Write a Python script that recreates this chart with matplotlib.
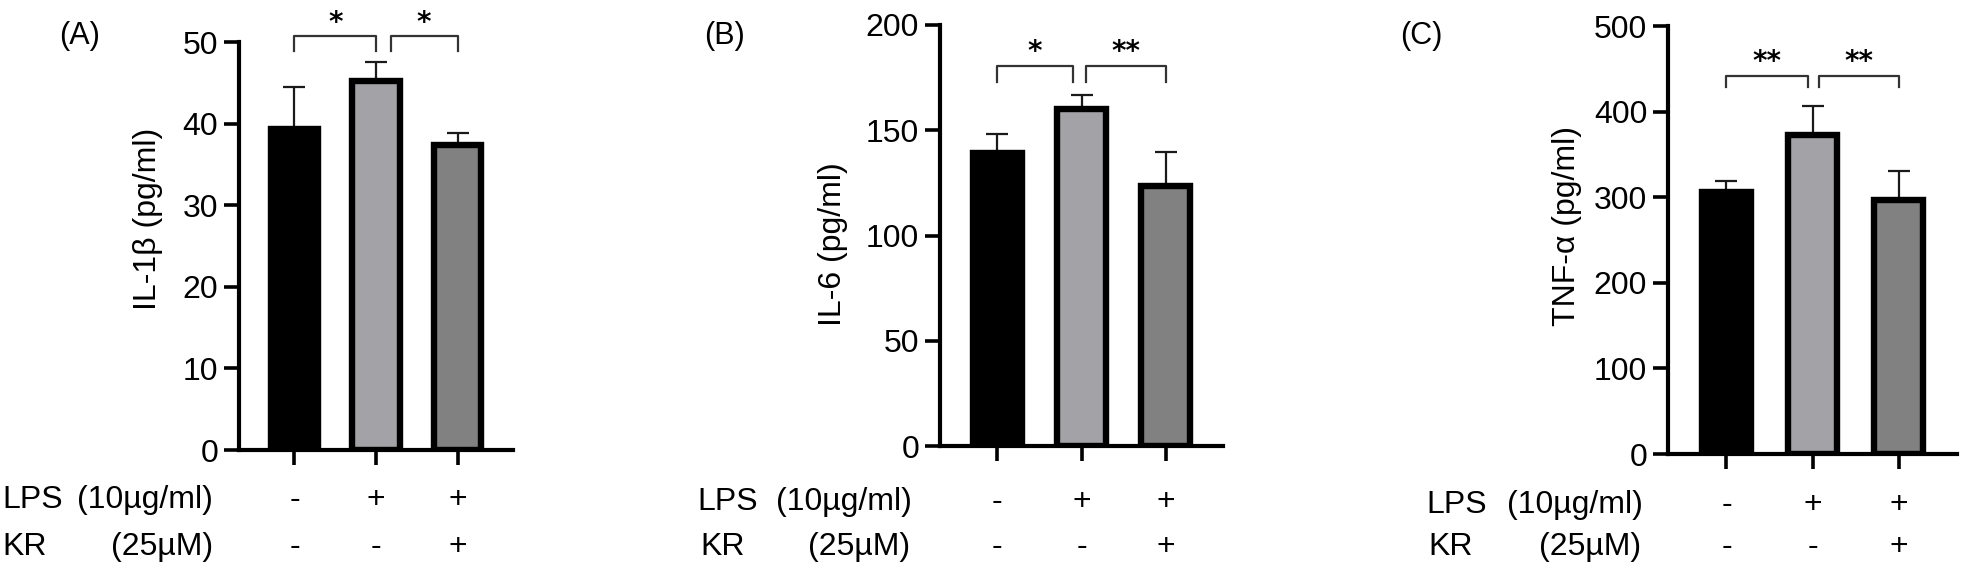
import matplotlib

matplotlib.use("Agg")
import matplotlib.pyplot as plt
import matplotlib.transforms as mtransforms
import numpy as np

plt.rcParams["font.family"] = ["Liberation Sans", "DejaVu Sans"]

# --- data ---
lps_signs = ["-", "+", "+"]
kr_signs = ["-", "-", "+"]

il1b_mean = [39.3, 45.2, 37.4]
il1b_err = [5.2, 2.3, 1.5]
il1b_sig = ["*", "*"]

il6_mean = [139.3, 160.1, 123.7]
il6_err = [8.7, 6.6, 15.8]
il6_sig = ["*", "**"]

tnf_mean = [306.0, 372.1, 296.2]
tnf_err = [12.4, 34.1, 34.1]
tnf_sig = ["**", "**"]

bar_colors = ["#000000", "#a3a3a7", "#818181"]

W, H = 1961, 572


def px_rect(left, right, top, bottom):
    return [left / W, 1 - bottom / H, (right - left) / W, (bottom - top) / H]


def draw_panel(fig, rect, means, errs, sig, ylabel, ymax, ystep,
               spans, br_top, br_low, letter, letter_xy, label_xy, rows):
    ax = fig.add_axes(rect)
    x = np.arange(len(means))
    ax.errorbar(x, means, yerr=[np.zeros(len(errs)), errs], fmt="none",
                ecolor="#1a1a1a", elinewidth=1.6, capsize=8, capthick=1.6, zorder=1)
    ax.bar(x, means, width=0.58, color=bar_colors, edgecolor="black",
           linewidth=4.6, zorder=2)

    ax.set_xlim(-0.68, 2.68)
    ax.set_ylim(0, ymax)
    ax.set_yticks(np.arange(0, ymax + 1, ystep))
    ax.set_xticks(x)
    ax.set_xticklabels([])
    for s in ["top", "right"]:
        ax.spines[s].set_visible(False)
    for s in ["left", "bottom"]:
        ax.spines[s].set_linewidth(3)
    ax.tick_params(axis="both", direction="out", length=11, width=2.6,
                   labelsize=23, pad=4)
    ax.set_ylabel(ylabel, fontsize=23)
    ax.yaxis.set_label_coords(*label_xy)

    # significance brackets
    for (x0, x1), s in zip(spans, sig):
        ax.plot([x0, x0, x1, x1], [br_low, br_top, br_top, br_low],
                color="#333333", lw=1.6, clip_on=False)
        ax.annotate(s, xy=((x0 + x1) / 2, br_top), xytext=(0, 4),
                    textcoords="offset points", ha="center", va="baseline",
                    fontsize=20, fontweight="bold", family="DejaVu Sans",
                    annotation_clip=False)

    fig.text(letter_xy[0] / W, 1 - letter_xy[1] / H, letter, fontsize=22,
             ha="center", va="center")

    # treatment table under the axis
    trans = mtransforms.blended_transform_factory(ax.transData, fig.transFigure)
    (lx0, lx1, ly), (kx0, kx1, ky) = rows
    fig.text(lx0 / W, 1 - ly / H, "LPS", fontsize=23, ha="left", va="center")
    fig.text(lx1 / W, 1 - ly / H, "(10\u00b5g/ml)", fontsize=23, ha="right", va="center")
    fig.text(kx0 / W, 1 - ky / H, "KR", fontsize=23, ha="left", va="center")
    fig.text(kx1 / W, 1 - ky / H, "(25\u00b5M)", fontsize=23, ha="right", va="center")
    for xi, a, b in zip(x, lps_signs, kr_signs):
        ax.text(xi, 1 - ly / H, a, transform=trans, fontsize=23, ha="center", va="center")
        ax.text(xi, 1 - ky / H, b, transform=trans, fontsize=23, ha="center", va="center")
    return ax


fig = plt.figure(figsize=(W / 100, H / 100), dpi=100)

draw_panel(fig, px_rect(239, 513, 42, 450), il1b_mean, il1b_err, il1b_sig,
           "IL-1\u03b2 (pg/ml)", 50, 10,
           [(0, 1.0), (1.18, 2.0)], 50.7, 48.9,
           "(A)", (80, 36), (-0.277, 0.566),
           [(2, 213, 500), (2, 213, 547)])

draw_panel(fig, px_rect(940, 1223, 25, 446), il6_mean, il6_err, il6_sig,
           "IL-6 (pg/ml)", 200, 50,
           [(0, 0.9), (1.05, 2.0)], 180.6, 172.8,
           "(B)", (724, 36), (-0.325, 0.48),
           [(697, 912, 502), (700, 910, 547)])

draw_panel(fig, px_rect(1668, 1957, 26, 454), tnf_mean, tnf_err, tnf_sig,
           "TNF-\u03b1 (pg/ml)", 500, 100,
           [(0, 0.95), (1.07, 2.0)], 442, 428.4,
           "(C)", (1421, 36), (-0.298, 0.533),
           [(1426, 1643, 505), (1428, 1641, 547)])

fig.savefig("out.png", dpi=100)
plt.close(fig)
